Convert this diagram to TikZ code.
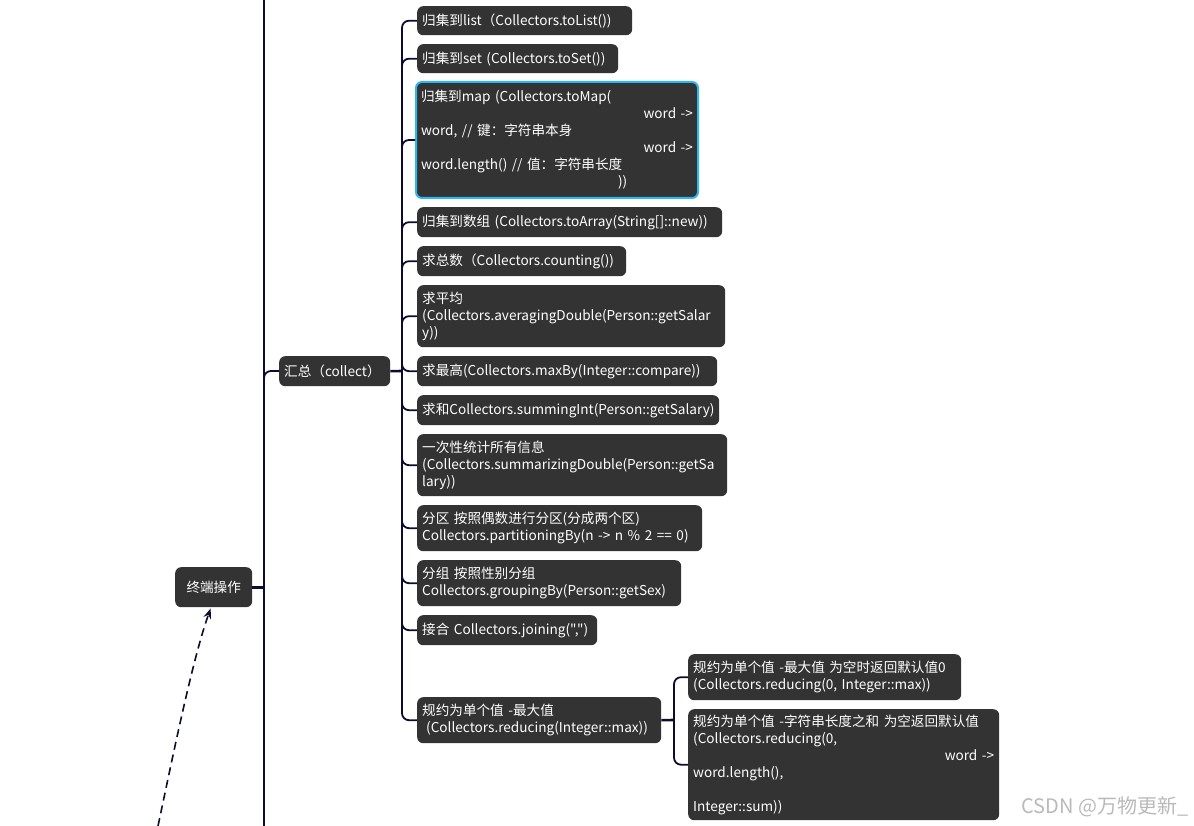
\documentclass[tikz,border=0pt]{standalone}
\usepackage{fontspec}
\setmainfont{Noto Sans CJK SC}[Ligatures=TeXOff]
\usepackage{tikz}
\usetikzlibrary{arrows.meta, positioning, calc}
\definecolor{boxgray}{HTML}{333333}
\definecolor{linenavy}{HTML}{0C0C30}
\definecolor{selblue}{HTML}{2DB7F5}
\hyphenpenalty=10000
\exhyphenpenalty=10000

\begin{document}
\begin{tikzpicture}[x=1pt, y=-1pt, >=Stealth,
    topic/.style={fill=boxgray, text=white, rounded corners=6pt, anchor=north west,
        inner xsep=5pt, inner ysep=0pt, align=left, font=\fontsize{13.6}{17}\selectfont},
    trunk/.style={draw=linenavy, line width=2.6pt},
    branch/.style={draw=linenavy, line width=1.8pt, rounded corners=7pt},
    stub/.style={draw=linenavy, line width=2.6pt}]
    \useasboundingbox (0,0) rectangle (1194,826);

    % main trunk and the terminal-operation root
    \coordinate (trunktop) at (264,0);
    \coordinate (trunkbot) at (264,826);
    \node[topic, align=center, text width=67pt, minimum height=40pt] (term) at (175,567) {终端操作};
    \draw[trunk] (trunktop) -- (trunkbot);
    \draw[stub] (term.east) -- (term.east -| trunktop);
    \draw[branch] (term.east -| trunktop) |- (279,371);

    % collect
    \node[topic, text width=101pt, minimum height=30pt] (collect) at (279,356) {汇总（collect）};
    \coordinate (cj) at (402,371);
    \draw[stub] (collect.east) -- (cj);

    \node[topic, text width=205pt, minimum height=29pt] (list) at (417,6) {归集到list（Collectors.toList())};
    \node[topic, text width=191pt, minimum height=29pt] (set) at (417,44) {归集到set (Collectors.toSet())};
    \node[topic, text width=272pt, minimum height=116pt, draw=selblue, line width=2pt] (map) at (415,81)
        {归集到map (Collectors.toMap(\\
         \mbox{}\hfill word ->\\
         word, // 键：字符串本身\\
         \mbox{}\hfill word ->\\
         word.length() // 值：字符串长度\\
         \hspace*{197pt}))};
    \node[topic, text width=295pt, minimum height=30pt] (array) at (417,207) {\mbox{归集到数组 (Collectors.toArray(String[]::new))}};
    \node[topic, text width=199pt, minimum height=30pt] (count) at (417,246) {求总数（Collectors.counting())};
    \node[topic, text width=298pt, minimum height=62pt] (avg) at (417,285)
        {求平均\\(Collectors.averagingDouble(Person::getSalar\\y))};
    \node[topic, text width=290pt, minimum height=30pt] (max) at (417,356) {求最高(Collectors.maxBy(Integer::compare))};
    \node[topic, text width=292pt, minimum height=30pt] (sum) at (417,395) {求和Collectors.summingInt(Person::getSalary)};
    \node[topic, text width=300pt, minimum height=62pt] (stats) at (417,434)
        {一次性统计所有信息\\(Collectors.summarizingDouble(Person::getSa\\lary))};
    \node[topic, text width=275pt, minimum height=46pt] (part) at (417,505)
        {分区 按照偶数进行分区(分成两个区)\\\mbox{Collectors.partitioningBy(n -> n \% 2 == 0)}};
    \node[topic, text width=254pt, minimum height=46pt] (group) at (417,560)
        {分组 按照性别分组\\Collectors.groupingBy(Person::getSex)};
    \node[topic, text width=170pt, minimum height=30pt] (join) at (417,615) {\mbox{接合 Collectors.joining(",")}};
    \node[topic, text width=234pt, minimum height=46pt] (reduce) at (417,697)
        {规约为单个值 -最大值\\\hspace*{4pt}(Collectors.reducing(Integer::max))};

    \foreach \c in {list, set, map, array, count, avg, max, sum, stats, part, group, join, reduce}
        \draw[branch] (cj) |- (\c.west);

    % reducing children
    \node[topic, text width=263pt, minimum height=46pt] (reducea) at (688,654)
        {\mbox{规约为单个值 -最大值 为空时返回默认值0}\\(Collectors.reducing(0, Integer::max))};
    \node[topic, text width=301pt, minimum height=111pt] (reduceb) at (688,709)
        {\mbox{规约为单个值 -字符串长度之和 为空返回默认值}\\
         (Collectors.reducing(0,\\
         \mbox{}\hfill word ->\\
         word.length(),\\
         \mbox{}\\
         Integer::sum))};
    \coordinate (rj) at (674,720);
    \draw[stub] (reduce.east) -- (rj);
    \draw[branch] (rj) |- (reducea.west);
    \draw[branch] (rj) |- (reduceb.west);

    % dashed link coming from below
    \coordinate (from) at (158,826);
    \draw[->, dashed, linenavy, line width=1.6pt, dash pattern=on 8pt off 5pt]
        (from) .. controls (170,770) and (192,660) .. ($(term.south)+(-3,1)$);

    \node[text=gray!55, font=\fontsize{20}{20}\selectfont, anchor=east] (mark) at (1192,807) {CSDN @万物更新\_};
\end{tikzpicture}
\end{document}
